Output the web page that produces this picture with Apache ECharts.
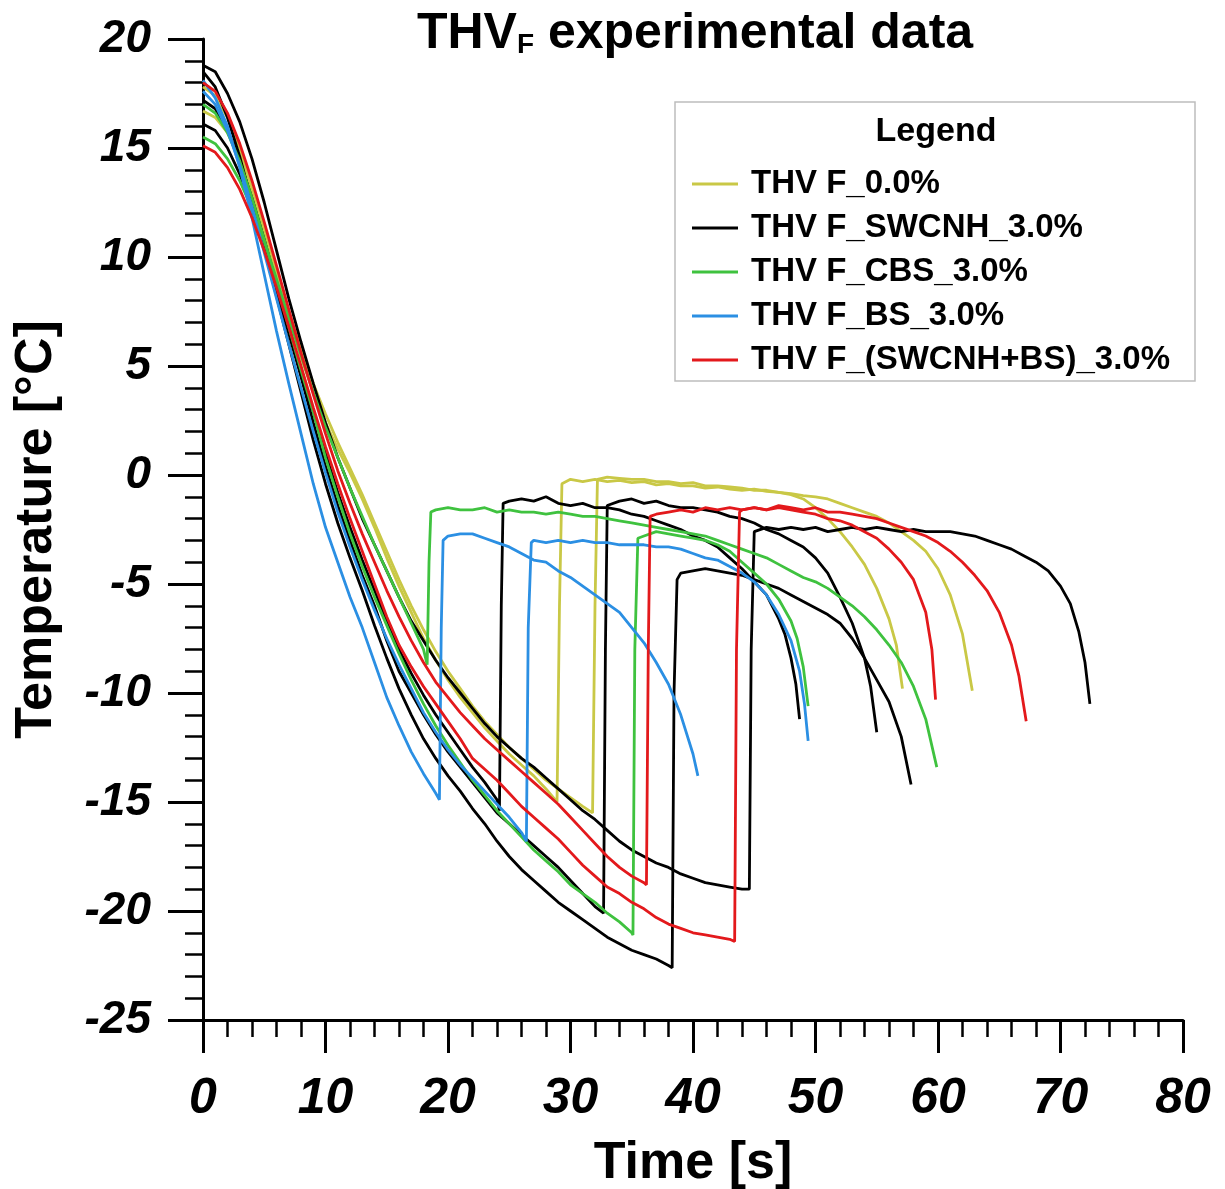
<!DOCTYPE html>
<html>
<head>
<meta charset="utf-8">
<title>THV F experimental data</title>
<script src="https://cdn.jsdelivr.net/npm/echarts@6/dist/echarts.min.js"></script>
<style>
  html, body { margin: 0; padding: 0; background: #fff; }
  #thvChart { width: 1225px; height: 1189px; }
</style>
</head>
<body>
<div id="thvChart"></div>
<script>
// each run: [time s, temperature °C]
const yellowRun1 = [[0,17.8],[1,17.4],[2,16.4],[3,15.0],[4,13.1],[5,11.1],[6,9.0],[7,7.1],[8,5.4],[9,3.8],[10,2.4],[11,1.2],[12,0.1],[13,-1.1],[14,-2.4],[15,-3.8],[16,-5.1],[17,-6.3],[18,-7.5],[19,-8.5],[20,-9.4],[21,-10.2],[22,-10.9],[23,-11.6],[24,-12.2],[25,-12.8],[26,-13.3],[27,-13.8],[28,-14.4],[28.9,-15.0],[29.1,-6],[29.3,-0.4],[30,-0.2],[31,-0.3],[32,-0.2],[33,-0.3],[34,-0.25],[35,-0.35],[36,-0.3],[37,-0.45],[38,-0.4],[39,-0.5],[40,-0.5],[41,-0.6],[42,-0.55],[43,-0.65],[44,-0.7],[45,-0.65],[46,-0.75],[47,-0.8],[48,-0.9],[49,-1.1],[50,-1.5],[51,-2.0],[52,-2.6],[53,-3.3],[54,-4.1],[55,-5.2],[56,-6.6],[56.6,-7.8],[57.1,-9.8]];
const yellowRun2 = [[0,16.7],[1,16.4],[2,15.7],[3,14.6],[4,13.1],[5,11.3],[6,9.4],[7,7.5],[8,5.8],[9,4.2],[10,2.8],[11,1.5],[12,0.3],[13,-0.9],[14,-2.2],[15,-3.5],[16,-4.8],[17,-6.0],[18,-7.1],[19,-8.1],[20,-9.0],[21,-9.8],[22,-10.6],[23,-11.3],[24,-11.9],[25,-12.5],[26,-13.0],[27,-13.5],[28,-14.0],[29,-14.4],[30,-14.8],[31,-15.2],[31.8,-15.5],[32,-6],[32.2,-0.2],[33,-0.1],[34,-0.15],[35,-0.2],[36,-0.2],[37,-0.3],[38,-0.3],[39,-0.4],[40,-0.35],[41,-0.5],[42,-0.5],[43,-0.55],[44,-0.6],[45,-0.7],[46,-0.7],[47,-0.8],[48,-0.85],[49,-0.95],[50,-1.0],[51,-1.1],[52,-1.3],[53,-1.5],[54,-1.7],[55,-1.9],[56,-2.2],[57,-2.6],[58,-3.0],[59,-3.5],[60,-4.3],[61,-5.5],[62,-7.3],[62.8,-9.9]];

const blackRun1 = [[0,17.2],[1,16.8],[2,15.8],[3,14.4],[4,12.7],[5,10.8],[6,8.8],[7,6.8],[8,4.8],[9,2.9],[10,1.0],[11,-0.8],[12,-2.4],[13,-3.9],[14,-5.3],[15,-6.7],[16,-8.0],[17,-9.1],[18,-10.1],[19,-11.0],[20,-11.8],[21,-12.6],[22,-13.4],[23,-14.1],[24,-14.9],[24.2,-15.4],[24.35,-6],[24.5,-1.3],[25,-1.2],[26,-1.1],[27,-1.2],[28,-1.0],[29,-1.3],[30,-1.4],[31,-1.3],[32,-1.5],[33,-1.5],[34,-1.6],[35,-1.8],[36,-1.9],[37,-2.1],[38,-2.3],[39,-2.5],[40,-2.8],[41,-3.0],[42,-3.3],[43,-3.8],[44,-4.3],[45,-4.9],[46,-5.5],[47,-6.6],[47.5,-7.3],[48,-8.4],[48.4,-9.6],[48.7,-11.2]];
const blackRun2 = [[0,16.1],[1,15.8],[2,15.0],[3,13.8],[4,12.2],[5,10.4],[6,8.5],[7,6.5],[8,4.5],[9,2.4],[10,0.4],[11,-1.4],[12,-3.0],[13,-4.6],[14,-6.0],[15,-7.6],[16,-9.0],[17,-10.0],[18,-11.0],[19,-11.9],[20,-12.7],[21,-13.4],[22,-14.1],[23,-14.8],[24,-15.5],[25,-16.0],[26,-16.5],[27,-17.0],[28,-17.5],[29,-18.0],[30,-18.6],[31,-19.2],[32,-19.8],[32.7,-20.1],[32.85,-8],[33,-1.4],[34,-1.2],[35,-1.1],[36,-1.3],[37,-1.2],[38,-1.4],[39,-1.5],[40,-1.5],[41,-1.6],[42,-1.7],[43,-1.9],[44,-2.0],[45,-2.2],[46,-2.5],[47,-2.7],[48,-3.0],[49,-3.3],[50,-3.8],[51,-4.5],[52,-5.6],[53,-6.8],[54,-8.4],[54.5,-9.7],[55,-11.8]];
const blackRun3 = [[0,18.5],[1,17.8],[2,16.4],[3,14.6],[4,12.5],[5,10.4],[6,8.2],[7,6.0],[8,3.8],[9,1.6],[10,-0.4],[11,-2.2],[12,-3.8],[13,-5.3],[14,-6.9],[15,-8.4],[16,-9.8],[17,-11.0],[18,-12.1],[19,-13.0],[20,-13.8],[21,-14.5],[22,-15.3],[23,-16.0],[24,-16.8],[25,-17.5],[26,-18.1],[27,-18.6],[28,-19.1],[29,-19.6],[30,-20.0],[31,-20.4],[32,-20.8],[33,-21.2],[34,-21.5],[35,-21.8],[36,-22.0],[37,-22.2],[38,-22.5],[38.3,-22.6],[38.45,-10],[38.7,-4.8],[39,-4.5],[40,-4.4],[41,-4.3],[42,-4.4],[43,-4.5],[44,-4.6],[45,-4.8],[46,-5.0],[47,-5.2],[48,-5.5],[49,-5.8],[50,-6.1],[51,-6.4],[52,-6.8],[53,-7.5],[54,-8.4],[55,-9.4],[56,-10.4],[57,-12.0],[57.8,-14.2]];
const blackRun4 = [[0,18.8],[1,18.5],[2,17.5],[3,16.2],[4,14.5],[5,12.5],[6,10.3],[7,8.1],[8,6.1],[9,4.2],[10,2.4],[11,0.8],[12,-0.6],[13,-2.0],[14,-3.2],[15,-4.4],[16,-5.6],[17,-6.7],[18,-7.6],[19,-8.5],[20,-9.3],[21,-10.0],[22,-10.7],[23,-11.4],[24,-12.0],[25,-12.5],[26,-13.0],[27,-13.4],[28,-13.9],[29,-14.4],[30,-14.9],[31,-15.4],[32,-15.8],[33,-16.3],[34,-16.8],[35,-17.2],[36,-17.5],[37,-17.8],[38,-18.0],[39,-18.3],[40,-18.5],[41,-18.7],[42,-18.8],[43,-18.9],[44,-19.0],[44.6,-19.0],[44.75,-8],[45,-2.6],[46,-2.4],[47,-2.5],[48,-2.4],[49,-2.5],[50,-2.4],[51,-2.6],[52,-2.5],[53,-2.4],[54,-2.5],[55,-2.4],[56,-2.5],[57,-2.6],[58,-2.5],[59,-2.6],[60,-2.6],[61,-2.6],[62,-2.7],[63,-2.8],[64,-3.0],[65,-3.2],[66,-3.4],[67,-3.7],[68,-4.0],[69,-4.4],[70,-5.1],[70.8,-5.9],[71.5,-7.2],[72,-8.6],[72.4,-10.5]];

const greenRun1 = [[0,15.5],[1,15.2],[2,14.5],[3,13.5],[4,12.2],[5,10.7],[6,9.0],[7,7.2],[8,5.5],[9,3.8],[10,2.2],[11,0.8],[12,-0.6],[13,-1.9],[14,-3.2],[15,-4.4],[16,-5.6],[17,-6.8],[18,-8.0],[18.3,-8.7],[18.45,-4],[18.6,-1.7],[19,-1.6],[20,-1.5],[21,-1.6],[22,-1.6],[23,-1.5],[24,-1.7],[25,-1.6],[26,-1.7],[27,-1.7],[28,-1.8],[29,-1.7],[30,-1.8],[31,-1.9],[32,-1.9],[33,-2.0],[34,-2.1],[35,-2.2],[36,-2.3],[37,-2.4],[38,-2.5],[39,-2.6],[40,-2.7],[41,-2.8],[42,-3.0],[43,-3.2],[44,-3.4],[45,-3.6],[46,-3.8],[47,-4.1],[48,-4.4],[49,-4.7],[50,-4.9],[51,-5.2],[52,-5.6],[53,-6.0],[54,-6.5],[55,-7.1],[56,-7.8],[57,-8.6],[58,-9.7],[59,-11.2],[59.9,-13.4]];
const greenRun2 = [[0,17.0],[1,16.6],[2,15.7],[3,14.4],[4,12.7],[5,10.8],[6,8.8],[7,6.8],[8,4.8],[9,2.9],[10,0.8],[11,-1.0],[12,-2.7],[13,-4.2],[14,-5.6],[15,-6.9],[16,-8.2],[17,-9.4],[18,-10.5],[19,-11.5],[20,-12.4],[21,-13.2],[22,-14.0],[23,-14.7],[24,-15.4],[25,-16.0],[26,-16.6],[27,-17.2],[28,-17.7],[29,-18.2],[30,-18.8],[31,-19.2],[32,-19.6],[33,-20.1],[34,-20.5],[35,-21.0],[35.1,-21.1],[35.25,-8],[35.5,-2.9],[36,-2.8],[37,-2.6],[38,-2.7],[39,-2.8],[40,-2.9],[41,-3.0],[42,-3.2],[43,-3.5],[44,-4.0],[45,-4.5],[46,-5.0],[47,-5.7],[48,-6.7],[48.5,-7.5],[49,-8.8],[49.4,-10.6]];

const blueRun1 = [[0,18.1],[1,17.3],[2,16.0],[3,14.1],[4,11.8],[5,9.2],[6,6.6],[7,4.2],[8,1.9],[9,-0.4],[10,-2.4],[11,-4.0],[12,-5.6],[13,-7.0],[14,-8.6],[15,-10.2],[16,-11.5],[17,-12.7],[18,-13.7],[19,-14.6],[19.3,-14.9],[19.45,-7],[19.6,-3.0],[20,-2.8],[21,-2.7],[22,-2.7],[23,-2.9],[24,-3.1],[25,-3.3],[26,-3.6],[27,-3.9],[28,-4.0],[29,-4.4],[30,-4.7],[31,-5.1],[32,-5.5],[33,-5.9],[34,-6.3],[35,-7.0],[36,-7.7],[37,-8.6],[38,-9.6],[39,-11.0],[40,-12.8],[40.4,-13.8]];
const blueRun2 = [[0,17.6],[1,17.0],[2,15.8],[3,14.2],[4,12.3],[5,10.2],[6,8.1],[7,6.0],[8,4.0],[9,2.0],[10,0.1],[11,-1.7],[12,-3.3],[13,-4.8],[14,-6.2],[15,-7.5],[16,-8.7],[17,-9.8],[18,-10.9],[19,-11.8],[20,-12.6],[21,-13.3],[22,-13.9],[23,-14.5],[24,-15.1],[25,-15.7],[26,-16.4],[26.4,-16.8],[26.55,-7],[26.8,-3.1],[27,-3.0],[28,-3.1],[29,-3.0],[30,-3.1],[31,-3.0],[32,-3.1],[33,-3.1],[34,-3.2],[35,-3.2],[36,-3.2],[37,-3.3],[38,-3.3],[39,-3.4],[40,-3.6],[41,-3.8],[42,-3.9],[43,-4.2],[44,-4.5],[45,-4.9],[46,-5.5],[47,-6.4],[48,-7.6],[48.7,-9.0],[49.1,-10.5],[49.4,-12.2]];

const redRun1 = [[0,18.0],[1,17.6],[2,16.6],[3,15.2],[4,13.5],[5,11.6],[6,9.6],[7,7.6],[8,5.6],[9,3.7],[10,1.9],[11,0.2],[12,-1.3],[13,-2.7],[14,-4.0],[15,-5.3],[16,-6.5],[17,-7.6],[18,-8.6],[19,-9.5],[20,-10.2],[21,-10.9],[22,-11.5],[23,-12.1],[24,-12.6],[25,-13.1],[26,-13.6],[27,-14.1],[28,-14.6],[29,-15.1],[30,-15.7],[31,-16.3],[32,-16.9],[33,-17.5],[34,-18.0],[35,-18.4],[36,-18.7],[36.2,-18.8],[36.35,-8],[36.5,-1.9],[37,-1.8],[38,-1.7],[39,-1.6],[40,-1.7],[41,-1.5],[42,-1.6],[43,-1.5],[44,-1.6],[45,-1.5],[46,-1.6],[47,-1.5],[48,-1.6],[49,-1.7],[50,-1.8],[51,-2.0],[52,-2.1],[53,-2.3],[54,-2.6],[55,-2.9],[56,-3.4],[57,-4.0],[58,-4.8],[59,-6.3],[59.5,-8.0],[59.8,-10.3]];
const redRun2 = [[0,15.1],[1,14.8],[2,14.1],[3,13.1],[4,11.8],[5,10.3],[6,8.6],[7,6.8],[8,5.0],[9,3.1],[10,1.3],[11,-0.4],[12,-2.0],[13,-3.5],[14,-5.0],[15,-6.5],[16,-7.8],[17,-8.8],[18,-9.7],[19,-10.5],[20,-11.3],[21,-12.1],[22,-13.0],[23,-13.5],[24,-14.0],[25,-14.6],[26,-15.2],[27,-15.7],[28,-16.2],[29,-16.7],[30,-17.3],[31,-17.9],[32,-18.4],[33,-18.9],[34,-19.2],[35,-19.6],[36,-19.9],[37,-20.3],[38,-20.6],[39,-20.8],[40,-21.0],[41,-21.1],[42,-21.2],[43,-21.3],[43.4,-21.4],[43.55,-8],[43.8,-1.7],[44,-1.6],[45,-1.5],[46,-1.6],[47,-1.4],[48,-1.5],[49,-1.6],[50,-1.5],[51,-1.7],[52,-1.7],[53,-1.8],[54,-1.9],[55,-2.0],[56,-2.2],[57,-2.4],[58,-2.6],[59,-2.8],[60,-3.1],[61,-3.5],[62,-4.0],[63,-4.6],[64,-5.3],[65,-6.3],[66,-7.8],[66.6,-9.2],[67.2,-11.3]];

const groupNames = ['THV F_0.0%', 'THV F_SWCNH_3.0%', 'THV F_CBS_3.0%', 'THV F_BS_3.0%', 'THV F_(SWCNH+BS)_3.0%'];
const groupColors = ['#c9c846', '#000000', '#3fc23f', '#2b8fe3', '#e3191c'];
const groupRuns = [
  [yellowRun1, yellowRun2],
  [blackRun1, blackRun2, blackRun3, blackRun4],
  [greenRun1, greenRun2],
  [blueRun1, blueRun2],
  [redRun1, redRun2]
];

const font = '"Liberation Sans", Arial, sans-serif';

const chart = echarts.init(document.getElementById('thvChart'));

// every run is its own line, runs of one sample share the legend name
const series = [];
groupRuns.forEach((runs, gi) => {
  runs.forEach((run) => {
    series.push({
      name: groupNames[gi],
      type: 'line',
      data: run,
      symbol: 'none',
      showSymbol: false,
      animation: false,
      lineStyle: { width: 2.8, color: groupColors[gi] },
      itemStyle: { color: groupColors[gi] }
    });
  });
});

const option = {
  backgroundColor: '#fff',
  animation: false,
  grid: {
    left: 203, right: 42, top: 39, bottom: 169,
    containLabel: false,
    outerBoundsMode: 'none'
  },
  xAxis: {
    type: 'value',
    min: 0, max: 80, interval: 10,
    axisLine: { show: true, onZero: false, lineStyle: { color: '#000', width: 3 } },
    axisTick: { show: true, length: 33, lineStyle: { color: '#000', width: 3 } },
    minorTick: { show: true, splitNumber: 5, length: 17, lineStyle: { color: '#000', width: 2.5 } },
    splitLine: { show: false },
    axisLabel: { margin: 54, color: '#000', fontFamily: font, fontSize: 50, fontWeight: 'bold', fontStyle: 'italic' },
    name: 'Time [s]',
    nameLocation: 'middle',
    nameGap: 118,
    nameTextStyle: { color: '#000', fontFamily: font, fontSize: 52, fontWeight: 'bold' }
  },
  yAxis: {
    type: 'value',
    min: -25, max: 20, interval: 5,
    axisLine: { show: true, onZero: false, lineStyle: { color: '#000', width: 3 } },
    axisTick: { show: true, length: 35, lineStyle: { color: '#000', width: 3 } },
    minorTick: { show: true, splitNumber: 5, length: 18, lineStyle: { color: '#000', width: 2.5 } },
    splitLine: { show: false },
    axisLabel: { margin: 52, color: '#000', fontFamily: font, fontSize: 46, fontWeight: 'bold', fontStyle: 'italic' },
    name: 'Temperature [°C]',
    nameLocation: 'middle',
    nameRotate: 90,
    nameGap: 140,
    nameTextStyle: { color: '#000', fontFamily: font, fontSize: 52, fontWeight: 'bold' }
  },
  legend: {
    data: groupNames,
    orient: 'vertical',
    left: 687,
    top: 161,
    icon: 'rect',
    itemWidth: 46,
    itemHeight: 3,
    itemGap: 8,
    selectedMode: false,
    textStyle: { color: '#000', fontFamily: font, fontSize: 33, fontWeight: 'bold', lineHeight: 36, padding: [0, 0, 0, 8] }
  },
  graphic: [
    {
      type: 'rect', z: 3,
      shape: { x: 675, y: 102, width: 520, height: 279 },
      style: { fill: '#fff', stroke: '#bdbdbd', lineWidth: 1.5 }
    },
    {
      type: 'text', z: 5, x: 936, y: 132,
      style: { text: 'Legend', fill: '#000', font: 'bold 34px ' + font, align: 'center', verticalAlign: 'middle' }
    },
    {
      type: 'text', z: 5, x: 695, y: 34,
      style: {
        text: '{a|THV}{b|F}{a| experimental data}',
        align: 'center', verticalAlign: 'middle', fill: '#000',
        rich: {
          a: { fontFamily: font, fontSize: 50, fontWeight: 'bold', lineHeight: 50, verticalAlign: 'bottom' },
          b: { fontFamily: font, fontSize: 28, fontWeight: 'bold', lineHeight: 10, verticalAlign: 'bottom' }
        }
      }
    }
  ],
  series: series
};

option && chart.setOption(option);
</script>
</body>
</html>
